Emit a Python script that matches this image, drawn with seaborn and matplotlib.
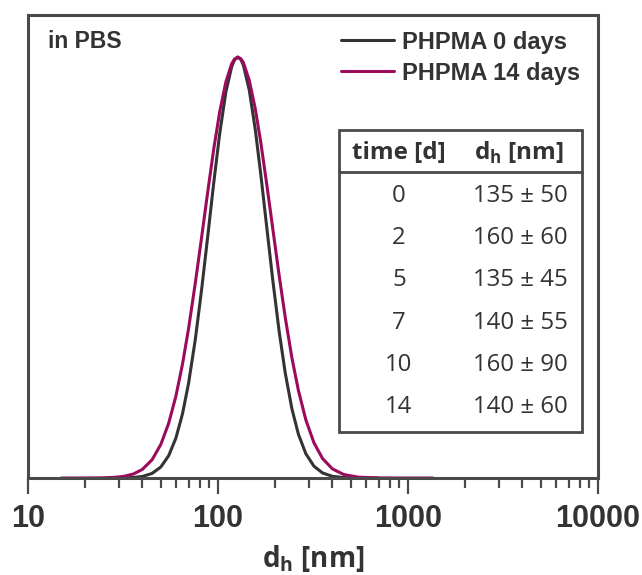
import matplotlib
matplotlib.use("Agg")
import matplotlib.pyplot as plt
import seaborn as sns
import pandas as pd
from matplotlib.patches import Rectangle
from matplotlib.ticker import LogLocator, FixedLocator, NullFormatter

# ---- data ----
size_0d = [28, 32, 36, 40, 45, 50, 55, 60, 65, 70, 76, 82, 88, 95, 102, 110, 118, 122, 127,
           132, 136, 146, 157, 168, 180, 194, 210, 226, 245, 265, 290, 320, 355, 400, 460, 550, 700]
int_0d = [0.0, 0.03, 0.13, 0.37, 1.09, 2.61, 5.30, 9.45, 15.2, 22.5, 33.0, 44.8, 56.8, 70.2,
          81.7, 91.7, 97.7, 99.3, 100.0, 99.4, 98.1, 92.2, 82.9, 72.1, 60.1, 47.2, 34.7, 24.9, 16.4,
          10.4, 5.76, 2.80, 1.20, 0.40, 0.10, 0.01, 0.0]

size_14d = [15, 18, 21, 24, 28, 32, 36, 40, 45, 50, 55, 60, 65, 70, 76, 82, 88, 95, 102, 110,
            118, 122, 127, 132, 136, 146, 157, 168, 180, 194, 210, 226, 245, 265, 290, 320, 355, 400,
            460, 550, 700, 900, 1100, 1350]
int_14d = [0.0, 0.0, 0.01, 0.03, 0.13, 0.39, 0.98, 2.05, 4.34, 7.96, 13.0, 19.4, 27.0, 35.5,
           46.4, 57.2, 67.5, 78.2, 86.9, 94.1, 98.4, 99.5, 100.0, 99.6, 98.7, 94.5, 87.8, 79.7, 70.2,
           59.4, 48.0, 38.1, 28.5, 20.8, 13.8, 8.35, 4.63, 2.17, 0.81, 0.19, 0.02, 0.0, 0.0, 0.0]

series_names = ["PHPMA 0 days", "PHPMA 14 days"]
table_time = ["0", "2", "5", "7", "10", "14"]
table_dh = [135, 160, 135, 140, 160, 140]
table_err = [50, 60, 45, 55, 90, 60]
xtick_values = [10, 100, 1000, 10000]
xtick_labels = ["10", "100", "1000", "10000"]

df = pd.concat([
    pd.DataFrame({"d": size_0d, "I": int_0d, "series": series_names[0]}),
    pd.DataFrame({"d": size_14d, "I": int_14d, "series": series_names[1]}),
], ignore_index=True)

sns.set_style("white")
TXT = "#333333"
SPINE = "#4a4a4a"
plt.rcParams["font.family"] = ["Liberation Sans", "DejaVu Sans"]

fig = plt.figure(figsize=(6.42, 5.75), dpi=100)
ax = fig.add_axes([28 / 642, 1 - 478 / 575, 570 / 642, 463 / 575])

sns.lineplot(data=df, x="d", y="I", hue="series", hue_order=series_names,
             palette=["#333333", "#9c0a5c"], linewidth=2.2, ax=ax, legend=True)

ax.set_xscale("log")
ax.set_xlim(10, 10000)
ax.set_ylim(0, 110)
ax.set_yticks([])
ax.set_ylabel("")
ax.set_xlabel("")
ax.xaxis.set_major_locator(FixedLocator(xtick_values))
ax.set_xticklabels(xtick_labels)
ax.xaxis.set_minor_locator(LogLocator(base=10, subs=range(2, 10)))
ax.xaxis.set_minor_formatter(NullFormatter())
ax.tick_params(axis="x", which="major", direction="out", length=11.5, width=1.6,
               color=SPINE, pad=7, labelsize=22, labelcolor=TXT, bottom=True, top=False)
ax.tick_params(axis="x", which="minor", direction="out", length=7.2, width=1.6,
               color=SPINE, bottom=True, top=False)
for lab in ax.get_xticklabels():
    lab.set_fontweight("bold")
for sp in ax.spines.values():
    sp.set_color(SPINE)
    sp.set_linewidth(2.2)

def fx(px):
    return (px - 28) / 570

def fy(py):
    return (478 - py) / 463

# legend
leg = ax.legend(loc="upper left", bbox_to_anchor=(fx(336), fy(26)),
                frameon=False, fontsize=17, handlelength=2.25, handletextpad=0.34,
                labelspacing=0.33, borderaxespad=0, borderpad=0.2)
for t in leg.get_texts():
    t.set_fontweight("bold")
    t.set_color(TXT)
for h in leg.get_lines():
    h.set_linewidth(2.2)

ax.text(fx(48), fy(41), "in PBS", transform=ax.transAxes,
        fontsize=16.5, fontweight="bold", color=TXT, ha="left", va="center")

# inset table
box = Rectangle((fx(339), fy(432)), fx(582) - fx(339), fy(130) - fy(432),
                transform=ax.transAxes, fill=False, edgecolor=SPINE, linewidth=2, zorder=5)
ax.add_patch(box)
ax.plot([fx(339), fx(582)], [fy(172), fy(172)], transform=ax.transAxes,
        color=SPINE, linewidth=2, zorder=5)

tfont = ["Open Sans", "DejaVu Sans"]
ax.text(fx(399), fy(153), "time [d]", transform=ax.transAxes, ha="center", va="center",
        fontsize=17.5, fontweight="bold", color=TXT, family=tfont)
ax.text(fx(519), fy(153), r"d$_\mathregular{h}$ [nm]", transform=ax.transAxes, ha="center",
        va="center", fontsize=17.5, fontweight="bold", color=TXT, family=tfont)
for i, (t, v, e) in enumerate(zip(table_time, table_dh, table_err)):
    yy = fy(196 + i * 42.2)
    ax.text(fx(399), yy, t, transform=ax.transAxes, ha="center", va="center",
            fontsize=17.3, color=TXT, family=tfont)
    ax.text(fx(520), yy, f"{v} \u00b1 {e}", transform=ax.transAxes, ha="center",
            va="center", fontsize=17.3, color=TXT, family=tfont)

fig.text(313 / 642, 1 - 558 / 575, r"d$_\mathregular{h}$ [nm]", ha="center", va="center",
         fontsize=20, fontweight="bold", color=TXT, family=tfont)

fig.savefig("out.png", dpi=100)
